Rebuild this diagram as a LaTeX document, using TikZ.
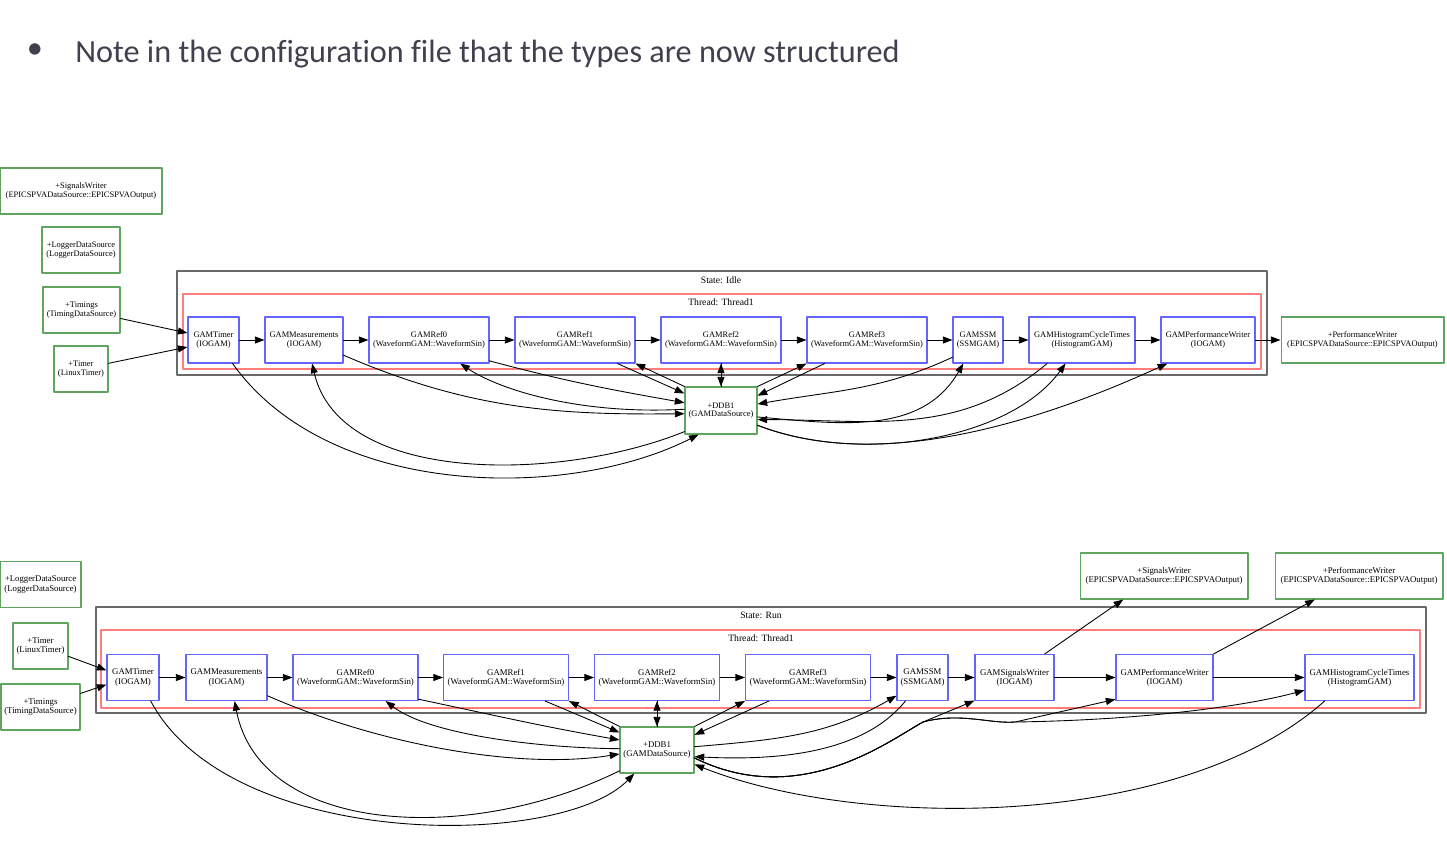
\documentclass[tikz,border=0pt]{standalone}
\usepackage{fontspec}
\setmainfont{Liberation Serif}
\newfontfamily\slidefont[Ligatures=NoCommon]{Carlito}
\usetikzlibrary{arrows.meta}

\definecolor{gamblue}{RGB}{100,100,255}
\definecolor{dsgreen}{RGB}{95,165,95}
\definecolor{threadred}{RGB}{255,125,125}
\definecolor{stategray}{RGB}{105,105,105}
\definecolor{slidegray}{RGB}{64,64,78}

\tikzset{
  gam/.style={draw=gamblue, line width=0.6pt, minimum height=0.92cm, inner sep=0pt, align=center},
  ds/.style={gam, draw=dsgreen},
  statebox/.style={draw=stategray, line width=0.7pt},
  threadbox/.style={draw=threadred, line width=0.6pt},
  clusterlabel/.style={font=\fontsize{5.5}{6}\selectfont, inner sep=0pt},
  flow/.style={->, line width=0.5pt},
}

\begin{document}
\begin{tikzpicture}[line cap=round,line join=round,>={Triangle[length=5.5pt,width=4pt]},x=0.02cm,y=-0.02cm,font=\fontsize{4.8}{5}\selectfont]
\useasboundingbox (0,0) rectangle (1447,842);

\node[font=\slidefont\fontsize{18.35}{22}\selectfont, text=slidegray, inner sep=0pt] (bullet) at (35,51) {•};
\node[font=\slidefont\fontsize{18.35}{22}\selectfont, text=slidegray, inner sep=0pt, anchor=base west] (title) at (75,62) {Note in the configuration file that the types are now structured};

% State: Idle
\draw[statebox] (177,271) rectangle (1267,375);
\node[clusterlabel] (aStateLbl) at (721,280) {State: Idle};
\draw[threadbox] (183,294) rectangle (1261,369);
\node[clusterlabel] (aThreadLbl) at (721,302) {Thread: Thread1};

\node[ds, minimum width=3.24cm] (aSigW) at (81,191) {+SignalsWriter\\(EPICSPVADataSource::EPICSPVAOutput)};
\node[ds, minimum width=1.56cm] (aLog) at (81,250) {+LoggerDataSource\\(LoggerDataSource)};
\node[ds, minimum width=1.54cm] (aTimings) at (81.5,310) {+Timings\\(TimingDataSource)};
\node[ds, minimum width=1.08cm] (aTimer) at (81,369) {+Timer\\(LinuxTimer)};

\node[gam, minimum width=1.02cm] (aTim) at (213.5,340) {GAMTimer\\(IOGAM)};
\node[gam, minimum width=1.56cm] (aMea) at (304,340) {GAMMeasurements\\(IOGAM)};
\node[gam, minimum width=2.4cm] (aRef0) at (429,340) {GAMRef0\\(WaveformGAM::WaveformSin)};
\node[gam, minimum width=2.4cm] (aRef1) at (575,340) {GAMRef1\\(WaveformGAM::WaveformSin)};
\node[gam, minimum width=2.4cm] (aRef2) at (721,340) {GAMRef2\\(WaveformGAM::WaveformSin)};
\node[gam, minimum width=2.4cm] (aRef3) at (867,340) {GAMRef3\\(WaveformGAM::WaveformSin)};
\node[gam, minimum width=1.0cm] (aSSM) at (978,340) {GAMSSM\\(SSMGAM)};
\node[gam, minimum width=2.12cm] (aHist) at (1082,340) {GAMHistogramCycleTimes\\(HistogramGAM)};
\node[gam, minimum width=1.88cm] (aPerf) at (1208,340) {GAMPerformanceWriter\\(IOGAM)};
\node[ds, minimum width=3.26cm] (aPerfW) at (1362.5,340) {+PerformanceWriter\\(EPICSPVADataSource::EPICSPVAOutput)};
\node[ds, minimum width=1.44cm, minimum height=0.94cm] (aDDB) at (721,410.5) {+DDB1\\(GAMDataSource)};

\draw[flow] (aTimings) -- (aTim.165);
\draw[flow] (aTimer) -- (aTim.195);
\draw[flow] (aTim) -- (aMea);
\draw[flow] (aMea) -- (aRef0);
\draw[flow] (aRef0) -- (aRef1);
\draw[flow] (aRef1) -- (aRef2);
\draw[flow] (aRef2) -- (aRef3);
\draw[flow] (aRef3) -- (aSSM);
\draw[flow] (aSSM) -- (aHist);
\draw[flow] (aHist) -- (aPerf);
\draw[flow] (aPerf) -- (aPerfW);

\draw[flow] (aTim.-51) .. controls (330,500) and (570,500) .. (aDDB.-133);
\draw[flow] (aDDB.-150) .. controls (560,482) and (340,485) .. (aMea.-71);
\draw[flow] (aMea.-21) .. controls (470,410) and (560,415) .. (aDDB.-175);
\draw[flow] (aDDB.178) .. controls (580,415) and (500,390) .. (aRef0.-37);
\draw[flow] (aRef0.-19) to[out=-15,in=170] (aDDB.168);
\draw[flow] (aRef1.-29) -- (aDDB.155);
\draw[flow] (aDDB.north west) -- (aRef1.south east);
\draw[flow] (aRef2) -- (aDDB);
\draw[flow] (aDDB) -- (aRef2);
\draw[flow] (aDDB.north east) -- (aRef3.south west);
\draw[flow] (aRef3.-151) -- (aDDB.22);
\draw[flow] (aSSM.-146) to[out=-155,in=10] (aDDB.10);
\draw[flow] (aDDB.-10) to[out=-5,in=-120] (aSSM.-122);
\draw[flow] (aHist.-146) to[out=-140,in=0] (aDDB.-14);
\draw[flow] (aDDB.-22) .. controls (860,465) and (1010,440) .. (aHist.-125);
\draw[flow] (aDDB.-22) .. controls (860,465) and (1000,440) .. (aPerf.-150);

% State: Run
\begin{scope}[font=\fontsize{5}{5.2}\selectfont, every node/.append style={minimum height=0.97cm}]
\draw[statebox] (96,607) rectangle (1426,713);
\node[clusterlabel, minimum height=0pt] (bStateLbl) at (761,615) {State: Run};
\draw[threadbox] (101,630) rectangle (1420,708);
\node[clusterlabel, minimum height=0pt] (bThreadLbl) at (761,638) {Thread: Thread1};

\node[ds, minimum width=1.62cm] (bLog) at (40.5,584.5) {+LoggerDataSource\\(LoggerDataSource)};
\node[ds, minimum width=1.1cm] (bTimer) at (40.5,646) {+Timer\\(LinuxTimer)};
\node[ds, minimum width=1.58cm] (bTimings) at (40.5,707) {+Timings\\(TimingDataSource)};
\node[ds, minimum width=3.36cm] (bSigW) at (1164,576) {+SignalsWriter\\(EPICSPVADataSource::EPICSPVAOutput)};
\node[ds, minimum width=3.36cm] (bPerfW) at (1359,576) {+PerformanceWriter\\(EPICSPVADataSource::EPICSPVAOutput)};

\node[gam, minimum width=1.04cm] (bTim) at (133,677.5) {GAMTimer\\(IOGAM)};
\node[gam, minimum width=1.62cm] (bMea) at (226.5,677.5) {GAMMeasurements\\(IOGAM)};
\node[gam, minimum width=2.5cm] (bRef0) at (355.5,677.5) {GAMRef0\\(WaveformGAM::WaveformSin)};
\node[gam, minimum width=2.5cm] (bRef1) at (506,677.5) {GAMRef1\\(WaveformGAM::WaveformSin)};
\node[gam, minimum width=2.5cm] (bRef2) at (657,677.5) {GAMRef2\\(WaveformGAM::WaveformSin)};
\node[gam, minimum width=2.5cm] (bRef3) at (808,677.5) {GAMRef3\\(WaveformGAM::WaveformSin)};
\node[gam, minimum width=1.02cm] (bSSM) at (922.5,677.5) {GAMSSM\\(SSMGAM)};
\node[gam, minimum width=1.58cm] (bSigWr) at (1014.5,677.5) {GAMSignalsWriter\\(IOGAM)};
\node[gam, minimum width=1.94cm] (bPerf) at (1164.5,677.5) {GAMPerformanceWriter\\(IOGAM)};
\node[gam, minimum width=2.18cm] (bHist) at (1359.5,677.5) {GAMHistogramCycleTimes\\(HistogramGAM)};
\node[ds, minimum width=1.48cm] (bDDB) at (657,750) {+DDB1\\(GAMDataSource)};
\end{scope}

\coordinate (bJoin) at (923,722);
\coordinate (bJoinB) at (1015,722);

\draw[flow] (bTimer) -- (bTim.165);
\draw[flow] (bTimings) -- (bTim.195);
\draw[flow] (bTim) -- (bMea);
\draw[flow] (bMea) -- (bRef0);
\draw[flow] (bRef0) -- (bRef1);
\draw[flow] (bRef1) -- (bRef2);
\draw[flow] (bRef2) -- (bRef3);
\draw[flow] (bRef3) -- (bSSM);
\draw[flow] (bSSM) -- (bSigWr);
\draw[flow] (bSigWr) -- (bPerf);
\draw[flow] (bPerf) -- (bHist);
\draw[flow] (bSigWr.38) -- (bSigW.-150);
\draw[flow] (bPerf.north east) -- (bPerfW.-152);

\draw[flow] (bTim.-53) .. controls (230,850) and (560,850) .. (bDDB.-134);
\draw[flow] (bDDB.-151) .. controls (470,845) and (260,835) .. (bMea.-71);
\draw[flow] (bMea.-24) .. controls (380,745) and (520,770) .. (bDDB.-174);
\draw[flow] (bDDB.178) .. controls (540,748) and (430,735) .. (bRef0.-38);
\draw[flow] (bRef0.-19) to[out=-12,in=170] (bDDB.165);
\draw[flow] (bRef1.-31) -- (bDDB.155);
\draw[flow] (bDDB.north west) -- (bRef1.south east);
\draw[flow] (bRef2) -- (bDDB);
\draw[flow] (bDDB) -- (bRef2);
\draw[flow] (bDDB.north east) -- (bRef3.south west);
\draw[flow] (bRef3.-149) -- (bDDB.22);
\draw[flow] (bDDB.5) to[out=5,in=-150] (bSSM.-145);
\draw[flow] (bSSM.-126) .. controls (870,745) and (800,762) .. (bDDB.-10);
\draw[flow] (bDDB.-12) .. controls (800,810) and (890,740) .. (bJoin) -- (bSigWr.-150);
\draw[flow] (bDDB.-12) .. controls (800,810) and (890,740) .. (bJoin) .. controls (960,712) and (990,724) .. (bJoinB) -- (bPerf.-156);
\draw[flow] (bDDB.-12) .. controls (800,810) and (890,740) .. (bJoin) .. controls (960,712) and (990,724) .. (bJoinB) .. controls (1150,720) and (1250,705) .. (bHist.-167);
\draw[flow] (bHist.-146) .. controls (1180,830) and (860,830) .. (bDDB.-21);
\end{tikzpicture}
\end{document}
